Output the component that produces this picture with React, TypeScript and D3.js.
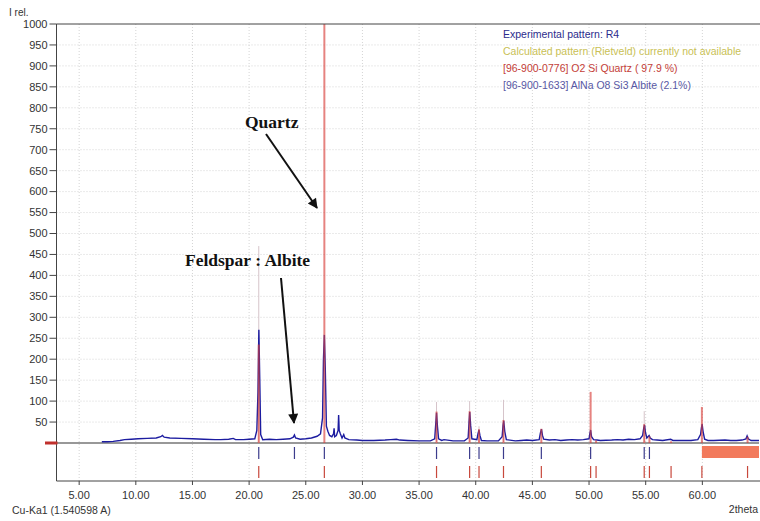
import React from "react";
import * as d3 from "d3";

const W = 760;
const H = 521;

// Experimental pattern R4: [2theta, I rel]
const expPattern: [number, number][] = [
  [7.0, 3], [7.5, 3], [8.0, 4], [8.6, 6], [9.0, 8], [9.6, 9], [10.2, 10], [11.0, 11], [11.8, 12],
  [12.2, 15], [12.35, 18], [12.5, 14], [13.0, 12], [14.0, 11], [15.0, 10], [16.0, 9], [17.0, 8],
  [17.5, 8], [18.2, 9], [18.6, 11], [18.8, 8], [19.5, 8], [20.0, 9], [20.5, 10], [20.68, 30],
  [20.78, 120], [20.86, 270], [20.94, 150], [21.02, 20], [21.2, 8], [21.8, 9], [22.4, 8], [23.0, 9],
  [23.6, 10], [23.9, 14], [24.0, 19], [24.1, 12], [24.5, 9], [25.0, 10], [25.5, 12], [26.0, 16],
  [26.3, 22], [26.48, 60], [26.56, 200], [26.64, 258], [26.72, 180], [26.82, 40], [26.95, 28],
  [27.1, 18], [27.3, 15], [27.45, 22], [27.5, 35], [27.55, 15], [27.7, 18], [27.85, 30], [27.9, 67],
  [27.95, 30], [28.05, 22], [28.2, 12], [28.35, 20], [28.45, 12], [28.8, 8], [29.5, 7], [30.0, 6],
  [31.0, 6], [32.0, 7], [32.5, 8], [33.0, 9], [33.3, 7], [34.0, 6], [35.0, 5], [36.0, 5], [36.38, 10],
  [36.47, 45], [36.54, 72], [36.62, 40], [36.72, 10], [37.0, 6], [37.2, 8], [38.0, 5], [39.0, 5],
  [39.33, 12], [39.41, 50], [39.47, 74], [39.55, 42], [39.66, 10], [40.1, 8], [40.2, 22],
  [40.29, 31], [40.37, 18], [40.5, 6], [41.0, 5], [42.0, 5], [42.33, 15], [42.41, 42], [42.47, 53],
  [42.56, 28], [42.7, 8], [43.5, 5], [44.0, 6], [44.5, 7], [45.0, 6], [45.6, 8], [45.71, 24],
  [45.8, 33], [45.89, 18], [46.0, 9], [46.5, 7], [47.0, 8], [47.5, 6], [48.0, 7], [48.5, 8],
  [49.0, 7], [49.5, 8], [50.0, 10], [50.07, 22], [50.14, 31], [50.22, 15], [50.4, 8], [50.7, 7],
  [51.0, 6], [52.0, 7], [52.5, 8], [53.0, 7], [53.5, 9], [54.0, 8], [54.5, 10], [54.73, 18],
  [54.83, 36], [54.9, 43], [54.98, 25], [55.1, 12], [55.3, 18], [55.4, 12], [55.6, 8], [56.0, 7],
  [56.5, 6], [57.2, 9], [57.4, 6], [58.0, 6], [59.0, 6], [59.6, 8], [59.84, 20], [59.92, 36],
  [59.98, 45], [60.06, 28], [60.2, 9], [60.5, 6], [61.0, 6], [62.0, 7], [62.5, 6], [63.0, 6],
  [63.5, 7], [63.85, 10], [63.95, 17], [64.05, 10], [64.3, 6], [65.0, 6],
];

// Quartz reference peaks (scaled to I rel)
const quartzPeaks: [number, number][] = [
  [20.85, 235], [26.64, 1000], [36.54, 75], [39.46, 76], [40.29, 33], [42.45, 55], [45.79, 34],
  [50.14, 122], [50.62, 6], [54.87, 45], [55.33, 16], [57.24, 4], [59.96, 86], [63.99, 15],
];

// Pale peak markers
const peakMarkers: [number, number][] = [
  [20.85, 470], [36.54, 98], [39.46, 100], [40.29, 40], [42.45, 103], [54.87, 76],
];

// Phase stick positions
const albiteSticks = [20.85, 24.0, 26.64, 36.54, 39.46, 40.29, 42.45, 45.79, 50.14, 54.87, 55.33];
const quartzSticks = [20.85, 26.64, 36.54, 39.46, 40.29, 42.45, 45.79, 50.14, 50.62, 54.87, 55.33, 57.24, 59.96, 63.99];
const albiteBlockStart = 59.96;

const xTicks = [5, 10, 15, 20, 25, 30, 35, 40, 45, 50, 55, 60];
const yTicks = [50, 100, 150, 200, 250, 300, 350, 400, 450, 500, 550, 600, 650, 700, 750, 800, 850, 900, 950, 1000];

const legendItems = [
  { text: "Experimental pattern: R4", color: "#2c2c8c" },
  { text: "Calculated pattern (Rietveld) currently not available", color: "#c9bf55" },
  { text: "[96-900-0776] O2 Si  Quartz ( 97.9 %)", color: "#c44038" },
  { text: "[96-900-1633] AlNa O8 Si3 Albite (2.1%)", color: "#5858a4" },
];

export default function App() {
  const left = 56.5;
  const right = 759;
  const top = 24;
  const bottom = 481;
  const x = d3.scaleLinear().domain([3, 65]).range([left, right]);
  const y = d3.scaleLinear().domain([0, 1000]).range([443, top]);
  const y0 = y(0);
  const line = d3
    .line<[number, number]>()
    .x((d) => x(d[0]))
    .y((d) => y(d[1]));

  const font = "'Liberation Sans', Arial, sans-serif";
  const serif = "'Liberation Serif', 'Times New Roman', serif";

  return (
    <svg width={W} height={H} style={{ position: "absolute", left: 0, top: 0, background: "#fff" }}>
      <defs>
        <marker id="ah" viewBox="0 0 10 10" refX="9" refY="5" markerWidth="6" markerHeight="5" orient="auto" markerUnits="strokeWidth">
          <path d="M0,0 L10,5 L0,10 z" fill="#111" />
        </marker>
        <clipPath id="plot">
          <rect x={left} y={top} width={right - left} height={bottom - top} />
        </clipPath>
      </defs>
      <rect x={0} y={0} width={W} height={H} fill="#fff" />

      {/* grid */}
      {yTicks.slice(0, -1).map((t) => (
        <line key={"gy" + t} x1={left} x2={right} y1={y(t)} y2={y(t)} stroke="#d4d4d4" strokeDasharray="1,2" />
      ))}
      {xTicks.map((t) => (
        <line key={"gx" + t} x1={x(t)} x2={x(t)} y1={top} y2={bottom} stroke="#d4d4d4" strokeDasharray="1,2" />
      ))}

      <g clipPath="url(#plot)">
        {/* zero line */}
        <line x1={left} x2={right} y1={y0} y2={y0} stroke="#333" strokeWidth={1.2} />
        {/* pale markers */}
        {peakMarkers.map(([p, h]) => (
          <line key={"pm" + p} x1={x(p)} x2={x(p)} y1={y0} y2={y(h)} stroke="#d6c4ca" strokeWidth={1} />
        ))}
        {/* experimental */}
        <path d={line(expPattern) || ""} fill="none" stroke="#1c1ca0" strokeWidth={1.4} />
        {/* quartz reference peaks */}
        {quartzPeaks.map(([p, h]) => (
          <line key={"qp" + p} x1={x(p)} x2={x(p)} y1={y0} y2={y(h)} stroke="#d8403c" strokeOpacity={0.65} strokeWidth={2} />
        ))}
        {/* stick rows */}
        {albiteSticks.map((p) => (
          <line key={"as" + p} x1={x(p)} x2={x(p)} y1={y0 + 4} y2={y0 + 16} stroke="#3c3c8c" strokeWidth={1.2} />
        ))}
        <rect x={x(albiteBlockStart)} y={y0 + 3} width={x(65) - x(albiteBlockStart)} height={12} fill="#f27a5c" />
        {quartzSticks.map((p) => (
          <line key={"qs" + p} x1={x(p)} x2={x(p)} y1={y0 + 23} y2={y0 + 35} stroke="#c8483c" strokeWidth={1.2} />
        ))}
      </g>

      {/* frame */}
      <line x1={left} x2={right + 2} y1={top} y2={top} stroke="#444" />
      <line x1={left} x2={right + 2} y1={bottom} y2={bottom} stroke="#444" />
      <line x1={left} x2={left} y1={top} y2={bottom} stroke="#444" />

      {/* left zero marker */}
      <line x1={45} x2={left + 1} y1={y0} y2={y0} stroke="#c0302c" strokeWidth={3} />

      {/* y axis */}
      {yTicks.map((t) => (
        <g key={"yt" + t}>
          <line x1={left - 7} x2={left} y1={y(t)} y2={y(t)} stroke="#444" />
          <text x={left - 9} y={y(t)} dy="0.35em" textAnchor="end" fontFamily={font} fontSize={11} fill="#333">
            {t}
          </text>
        </g>
      ))}
      <text x={9} y={16} fontFamily={font} fontSize={10} fill="#333">I rel.</text>

      {/* x axis */}
      {xTicks.map((t) => (
        <g key={"xt" + t}>
          <line x1={x(t)} x2={x(t)} y1={bottom} y2={bottom + 4} stroke="#444" />
          <text x={x(t)} y={499} textAnchor="middle" fontFamily={font} fontSize={11} fill="#333">
            {d3.format(".2f")(t)}
          </text>
        </g>
      ))}
      <text x={12} y={514} fontFamily={font} fontSize={10.5} fill="#333">Cu-Ka1 (1.540598 A)</text>
      <text x={758} y={513} textAnchor="end" fontFamily={font} fontSize={10.5} fill="#333">2theta</text>

      {/* legend */}
      {legendItems.map((it, i) => (
        <text key={"lg" + i} x={503} y={37.5 + i * 17} fontFamily={font} fontSize={10.5} fill={it.color}>
          {it.text}
        </text>
      ))}

      {/* annotations */}
      <text x={245} y={128} fontFamily={serif} fontWeight="bold" fontSize={17.5} fill="#111">Quartz</text>
      <line x1={266} y1={134} x2={317} y2={208} stroke="#111" strokeWidth={2} markerEnd="url(#ah)" />
      <text x={185} y={266} fontFamily={serif} fontWeight="bold" fontSize={17.5} fill="#111">Feldspar : Albite</text>
      <line x1={281} y1={278} x2={294} y2={423} stroke="#111" strokeWidth={2} markerEnd="url(#ah)" />
    </svg>
  );
}
